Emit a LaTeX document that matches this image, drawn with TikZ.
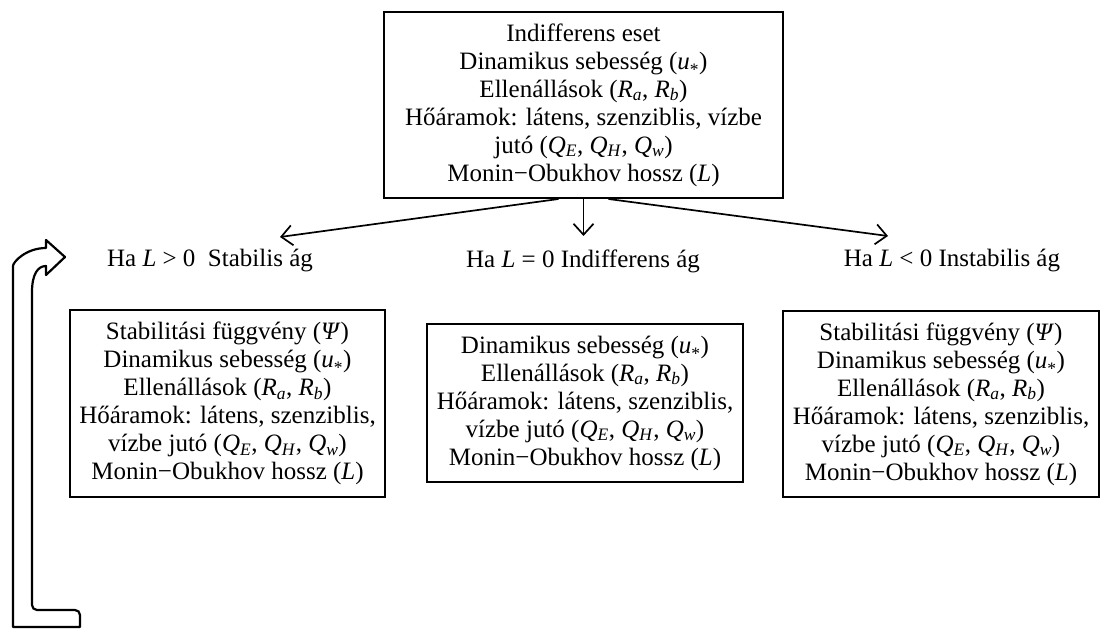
\documentclass[tikz,border=0pt]{standalone}
\usepackage{fontspec}
\setmainfont{Liberation Serif}
\usetikzlibrary{arrows.meta,calc}
\newcommand{\ustar}{(\textit{u}\textsubscript{\raisebox{-0.3ex}{*}})}
\newcommand{\Rab}{(\textit{R}\textsubscript{\textit{a}}, \textit{R}\textsubscript{\textit{b}})}
\newcommand{\Qehw}{(\textit{Q}\textsubscript{\textit{E}}, \textit{Q}\textsubscript{\textit{H}}, \textit{Q}\textsubscript{\textit{w}})}
\tikzstyle{bx} = [rectangle,
                      draw=black,
                      line width=2pt,
                      inner sep=0pt,
                      align=center,
                      text centered,
                      font=\fontsize{25}{28}\selectfont,
                      minimum width=316pt]
\tikzstyle{lbl} = [inner sep=0pt,
                      font=\fontsize{25}{28}\selectfont]
\tikzstyle{ag} = [line width=1.7pt,
                      -{Straight Barb[length=11pt,width=20pt]}]
\tikzstyle{blockarr} = [line width=2.2pt,
                      fill=white,
                      line join=round]

\begin{document}
\begin{tikzpicture}[x=1pt,y=-1pt]
     \useasboundingbox (0,0) rectangle (1103,631);
     % top box
     \node [bx, minimum width=399pt, minimum height=186pt] (top) at (583.5,105)
          {Indifferens eset\\ Dinamikus sebesség \ustar\\ Ellenállások \Rab\\
           Hőáramok: látens, szenziblis, vízbe\\ jutó \Qehw\\ Monin−Obukhov hossz (\textit{L})};
     % branches
     \node [lbl] (stab) at (210,261) {Ha \textit{L} > 0\ \ Stabilis ág};
     \node [lbl] (indif) at (583,261) {Ha \textit{L} = 0 Indifferens ág};
     \node [lbl] (instab) at (952,261) {Ha \textit{L} < 0 Instabilis ág};
     \coordinate (tipS) at (280,237);
     \coordinate (tipI) at (888,236);
     \draw [ag] ([xshift=-25pt]top.south) -- (tipS);
     \draw [ag] (top.south) -- (top.south |- 0,236);
     \draw [ag] ([xshift=25pt]top.south) -- (tipI);
     % boxes
     \node [bx, minimum width=315pt, minimum height=187pt] (bstab) at (227.5,403.5)
          {Stabilitási függvény (\textit{Ψ})\\ Dinamikus sebesség \ustar\\ Ellenállások \Rab\\
           Hőáramok: látens, szenziblis,\\ vízbe jutó \Qehw\\ Monin−Obukhov hossz (\textit{L})};
     \node [bx, minimum height=158pt] (bindif) at (585,403)
          {Dinamikus sebesség \ustar\\ Ellenállások \Rab\\
           Hőáramok: látens, szenziblis,\\ vízbe jutó \Qehw\\ Monin−Obukhov hossz (\textit{L})};
     \node [bx, minimum height=186pt] (binstab) at (941,404)
          {Stabilitási függvény (\textit{Ψ})\\ Dinamikus sebesség \ustar\\ Ellenállások \Rab\\
           Hőáramok: látens, szenziblis,\\ vízbe jutó \Qehw\\ Monin−Obukhov hossz (\textit{L})};
     % loop back arrow
     \draw [blockarr] (80,627) -- (13,627) [rounded corners=18] -- (13,284)
          [sharp corners] .. controls (13,262) and (26,248) .. (46,248) -- (46,240) -- (65,257)
          -- (46,275) -- (46,266) .. controls (38,266) and (32,274) .. (32,292) [rounded corners=5] -- (32,610)
          -- (80,610) [sharp corners] -- cycle;
\end{tikzpicture}
\end{document}
